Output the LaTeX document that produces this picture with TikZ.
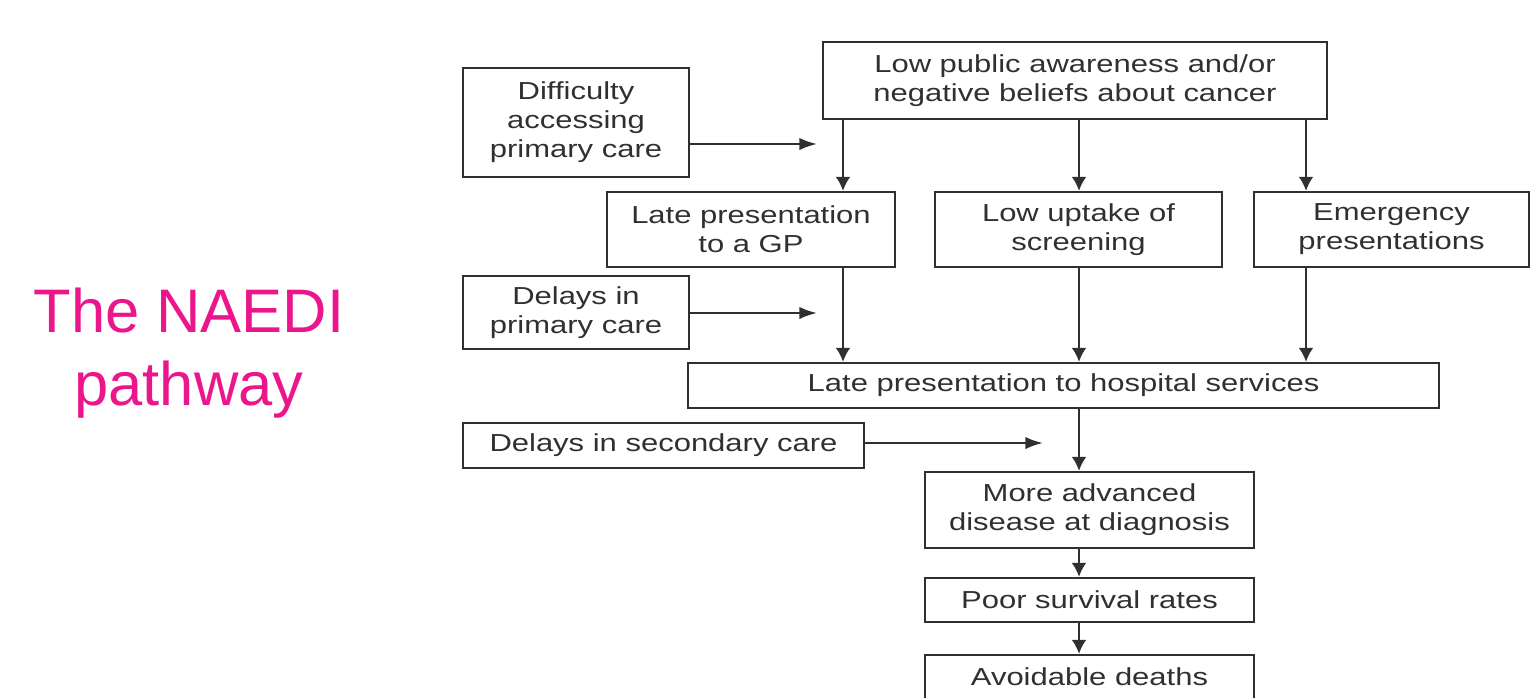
\documentclass[tikz,border=0pt]{standalone}
\usepackage{fontspec}
\setmainfont{Liberation Sans}
\newfontfamily\boxfont[FakeStretch=1.26]{Liberation Sans}
\usepackage{tikz}
\usetikzlibrary{arrows.meta}
\definecolor{naedipink}{RGB}{236,22,140}
\definecolor{boxgray}{RGB}{48,48,48}

\begin{document}
\begin{tikzpicture}[x=0.02cm, y=-0.02cm,
						block/.style={
							rectangle,
							draw=boxgray, line width=1.3pt,
							text=boxgray,
							inner sep=0pt,
							align=center,
							font=\boxfont\fontsize{14}{16.5}\selectfont
						},
						heading/.style={
							text=naedipink,
							align=center,
							font=\fontsize{35}{42}\selectfont
						},
						downarrow/.style={-{Latex[length=8pt,width=8.5pt]}, draw=boxgray, line width=1.3pt},
						sidearrow/.style={-{Latex[length=10pt,width=7pt]}, draw=boxgray, line width=1.3pt}]

						\useasboundingbox (0,0) rectangle (1531,697);

						% Title on the left
						\node [heading] (naedi) at (189,353) {The NAEDI\\pathway};

						% Top cause node
						\node [block, minimum width=10.08cm, minimum height=1.54cm] (awareness) at (1075,80.5)
							{Low public awareness and/or\\negative beliefs about cancer};

						% Access node
						\node [block, minimum width=4.52cm, minimum height=2.18cm] (access) at (576,122.5)
							{Difficulty\\accessing\\primary care};

						% The three middle nodes
						\node [block, minimum width=5.76cm, minimum height=1.5cm] (gp) at (751,229.5)
							{Late presentation\\to a GP};
						\node [block, minimum width=5.74cm, minimum height=1.5cm] (screening) at (1078.5,229.5)
							{Low uptake of\\screening};
						\node [block, minimum width=5.5cm, minimum height=1.5cm] (emergency) at (1391.5,229.5)
							{Emergency\\presentations};

						% Primary care delay node
						\node [block, minimum width=4.52cm, minimum height=1.46cm] (primary) at (576,312.5)
							{Delays in\\primary care};

						% Hospital node
						\node [block, minimum width=15.02cm, minimum height=0.9cm] (hospital) at (1063.5,385.5)
							{Late presentation to hospital services};

						% Secondary care delay node
						\node [block, minimum width=8.02cm, minimum height=0.9cm] (secondary) at (663.5,445.5)
							{Delays in secondary care};

						% Outcome nodes
						\node [block, minimum width=6.58cm, minimum height=1.52cm] (advanced) at (1089.5,510)
							{More advanced\\disease at diagnosis};
						\node [block, minimum width=6.58cm, minimum height=0.88cm] (survival) at (1089.5,600)
							{Poor survival rates};
						\node [block, minimum width=6.58cm, minimum height=0.88cm] (deaths) at (1089.5,677)
							{Avoidable deaths};

						%% Columns and free arrow ends
						\coordinate (colGP) at (843,0);
						\coordinate (colMid) at (1079,0);
						\coordinate (colEm) at (1306,0);
						\coordinate (accessTip) at (817,144);
						\coordinate (primaryTip) at (817,313);
						\coordinate (secondaryTip) at (1043,443);

						%% Vertical arrows
						\draw [downarrow] (awareness.south -| colGP) -- (gp.north -| colGP);
						\draw [downarrow] (awareness.south -| colMid) -- (screening.north -| colMid);
						\draw [downarrow] (awareness.south -| colEm) -- (emergency.north -| colEm);
						\draw [downarrow] (gp.south -| colGP) -- (hospital.north -| colGP);
						\draw [downarrow] (screening.south -| colMid) -- (hospital.north -| colMid);
						\draw [downarrow] (emergency.south -| colEm) -- (hospital.north -| colEm);
						\draw [downarrow] (hospital.south -| colMid) -- (advanced.north -| colMid);
						\draw [downarrow] (advanced.south -| colMid) -- (survival.north -| colMid);
						\draw [downarrow] (survival.south -| colMid) -- (deaths.north -| colMid);

						%% Side arrows from the delay nodes
						\draw [sidearrow] (access.east |- accessTip) -- (accessTip);
						\draw [sidearrow] (primary.east |- primaryTip) -- (primaryTip);
						\draw [sidearrow] (secondary.east |- secondaryTip) -- (secondaryTip);
					\end{tikzpicture}
\end{document}
